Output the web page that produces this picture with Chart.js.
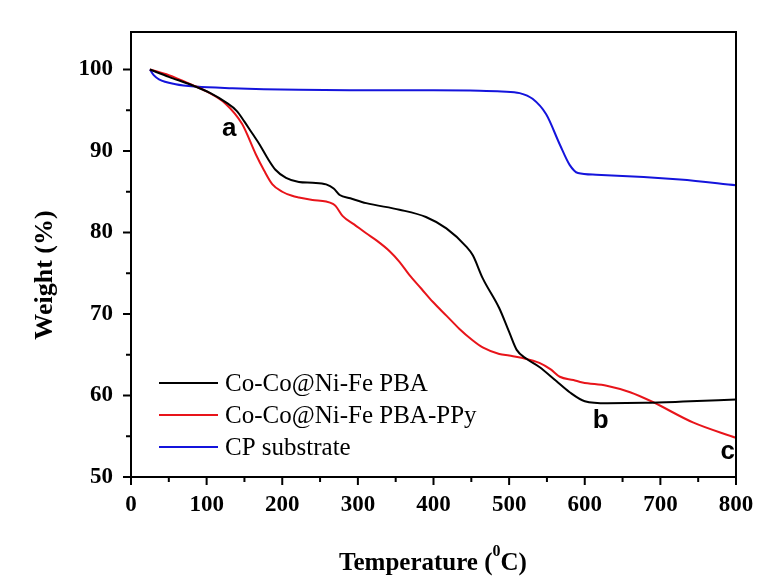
<!DOCTYPE html>
<html>
<head>
<meta charset="utf-8">
<title>TGA curves</title>
<script src="https://cdn.jsdelivr.net/npm/chart.js@4.4.1/dist/chart.umd.min.js"></script>
<style>
    html, body { margin: 0; padding: 0; background: #fff; }
    canvas { display: block; }
</style>
</head>
<body>
<canvas id="tgaChart" width="759" height="576"></canvas>
<script>
// Data
const seriesNames = ["Co-Co@Ni-Fe PBA", "Co-Co@Ni-Fe PBA-PPy", "CP substrate"];
const seriesColors = ["#000000", "#e8141a", "#1414dc"];

const pbaTemp = [25, 50, 80, 105, 125, 140, 150, 160, 170, 180, 191, 205, 222, 240, 258, 268, 276, 290, 311, 355, 390, 417, 443, 452, 465, 487, 500, 510, 523, 540, 562, 580, 600, 630, 680, 730, 800];
const pbaWeight = [100, 99.1, 98.1, 97.1, 96.0, 94.9, 93.6, 92.2, 90.8, 89.2, 87.7, 86.7, 86.2, 86.1, 85.9, 85.4, 84.6, 84.2, 83.6, 82.8, 81.9, 80.5, 78.3, 77.2, 74.4, 70.7, 67.8, 65.6, 64.5, 63.5, 61.8, 60.4, 59.3, 59.05, 59.1, 59.25, 59.5];

const ppyTemp = [25, 50, 81, 100, 125, 147, 165, 176, 187, 200, 213, 222, 240, 258, 267, 271, 280, 295, 311, 325, 342, 355, 368, 384, 399, 417, 434, 450, 465, 487, 500, 518, 540, 555, 567, 585, 597, 629, 660, 690, 743, 800];
const ppyWeight = [100, 99.3, 98.1, 97.3, 95.8, 93.3, 89.6, 87.6, 85.9, 85.0, 84.5, 84.3, 84.0, 83.8, 83.5, 83.2, 82.0, 81.0, 79.9, 79.0, 77.7, 76.4, 74.8, 73.1, 71.5, 69.8, 68.2, 66.9, 65.9, 65.1, 64.9, 64.6, 64.0, 63.2, 62.3, 61.9, 61.6, 61.2, 60.4, 59.2, 56.7, 54.8];

const cpTemp = [25, 30, 37, 59, 86, 134, 222, 289, 400, 461, 490, 514, 531, 549, 567, 580, 591, 615, 726, 800];
const cpWeight = [100, 99.3, 98.8, 98.2, 97.9, 97.7, 97.5, 97.45, 97.45, 97.4, 97.3, 97.1, 96.4, 94.5, 90.8, 88.3, 87.3, 87.1, 86.5, 85.8];

const xTicks = [0, 100, 200, 300, 400, 500, 600, 700, 800];
const yTicks = [50, 60, 70, 80, 90, 100];

// curve labels a, b, c (data coordinates)
const markLabels = ["a", "b", "c"];
const markX = [130, 621, 789];
const markY = [92.7, 56.9, 53.1];

const SERIF = "'Liberation Serif', 'Times New Roman', serif";
const SANS = "'Liberation Sans', Arial, sans-serif";

function toPoints(xs, ys) {
    return xs.map((x, i) => ({ x: x, y: ys[i] }));
}

const datasets = [
    toPoints(pbaTemp, pbaWeight),
    toPoints(ppyTemp, ppyWeight),
    toPoints(cpTemp, cpWeight)
].map((pts, i) => ({
    label: seriesNames[i],
    data: pts,
    borderColor: seriesColors[i],
    borderWidth: 2,
    pointRadius: 0,
    fill: false,
    cubicInterpolationMode: "monotone"
}));

// frame, tick marks, titles, legend and the a/b/c marks
const decorPlugin = {
    id: "decor",
    afterDraw(chart) {
        const ctx = chart.ctx;
        const area = chart.chartArea;
        const xs = chart.scales.x;
        const ys = chart.scales.y;
        ctx.save();

        // box
        ctx.strokeStyle = "#000";
        ctx.lineWidth = 2;
        ctx.strokeRect(area.left, area.top, area.right - area.left, area.bottom - area.top);

        // major + minor ticks, outward
        ctx.beginPath();
        for (let i = 0; i < xTicks.length; i++) {
            const px = xs.getPixelForValue(xTicks[i]);
            ctx.moveTo(px, area.bottom);
            ctx.lineTo(px, area.bottom + 8);
            if (i < xTicks.length - 1) {
                const mx = xs.getPixelForValue((xTicks[i] + xTicks[i + 1]) / 2);
                ctx.moveTo(mx, area.bottom);
                ctx.lineTo(mx, area.bottom + 5);
            }
        }
        for (let i = 0; i < yTicks.length; i++) {
            const py = ys.getPixelForValue(yTicks[i]);
            ctx.moveTo(area.left, py);
            ctx.lineTo(area.left - 8, py);
            if (i < yTicks.length - 1) {
                const my = ys.getPixelForValue((yTicks[i] + yTicks[i + 1]) / 2);
                ctx.moveTo(area.left, my);
                ctx.lineTo(area.left - 5, my);
            }
        }
        ctx.stroke();

        // legend
        ctx.font = "25px " + SERIF;
        ctx.textBaseline = "middle";
        ctx.textAlign = "left";
        const legendY = [383, 415, 447];
        seriesNames.forEach((name, i) => {
            ctx.strokeStyle = seriesColors[i];
            ctx.lineWidth = 2;
            ctx.beginPath();
            ctx.moveTo(159, legendY[i]);
            ctx.lineTo(218, legendY[i]);
            ctx.stroke();
            ctx.fillStyle = "#000";
            ctx.fillText(name, 225, legendY[i] + 1);
        });

        // a, b, c
        ctx.font = "bold 26px " + SANS;
        ctx.textAlign = "center";
        ctx.fillStyle = "#000";
        markLabels.forEach((t, i) => {
            ctx.fillText(t, xs.getPixelForValue(markX[i]), ys.getPixelForValue(markY[i]));
        });

        // x title with superscript 0
        ctx.textBaseline = "alphabetic";
        ctx.textAlign = "left";
        const bigFont = "bold 25px " + SERIF;
        const supFont = "bold 16px " + SERIF;
        const part1 = "Temperature (";
        const part2 = "C)";
        ctx.font = bigFont;
        const w1 = ctx.measureText(part1).width;
        const w3 = ctx.measureText(part2).width;
        ctx.font = supFont;
        const w2 = ctx.measureText("0").width;
        let tx = 433 - (w1 + w2 + w3) / 2;
        ctx.font = bigFont;
        ctx.fillText(part1, tx, 570);
        ctx.font = supFont;
        ctx.fillText("0", tx + w1, 556);
        ctx.font = bigFont;
        ctx.fillText(part2, tx + w1 + w2, 570);

        // y title
        ctx.translate(52, 275);
        ctx.rotate(-Math.PI / 2);
        ctx.font = "bold 26px " + SERIF;
        ctx.textAlign = "center";
        ctx.fillText("Weight (%)", 0, 0);

        ctx.restore();
    }
};

const whiteBg = {
    id: "whiteBg",
    beforeDraw(chart) {
        const ctx = chart.ctx;
        ctx.save();
        ctx.fillStyle = "#fff";
        ctx.fillRect(0, 0, chart.width, chart.height);
        ctx.restore();
    }
};

new Chart(document.getElementById("tgaChart").getContext("2d"), {
    type: "line",
    data: { datasets: datasets },
    plugins: [whiteBg, decorPlugin],
    options: {
        responsive: false,
        animation: false,
        layout: { padding: { top: 32, right: 23, left: 0, bottom: 0 } },
        plugins: {
            legend: { display: false },
            tooltip: { enabled: false }
        },
        scales: {
            x: {
                type: "linear",
                min: 0,
                max: 800,
                afterBuildTicks: (scale) => { scale.ticks = xTicks.map(v => ({ value: v })); },
                afterFit: (scale) => {
                    scale.height = 99;
                    scale.paddingLeft = 0;
                    scale.paddingRight = 0;
                },
                grid: { display: false, drawTicks: false },
                border: { display: false },
                ticks: {
                    color: "#000",
                    padding: 14,
                    maxRotation: 0,
                    font: { family: SERIF, size: 23, weight: "bold" }
                }
            },
            y: {
                min: 50,
                max: 104.6,
                afterBuildTicks: (scale) => { scale.ticks = yTicks.map(v => ({ value: v })); },
                afterFit: (scale) => {
                    scale.width = 131;
                    scale.paddingTop = 0;
                    scale.paddingBottom = 0;
                },
                grid: { display: false, drawTicks: false },
                border: { display: false },
                ticks: {
                    color: "#000",
                    padding: 18,
                    font: { family: SERIF, size: 23, weight: "bold" }
                }
            }
        }
    }
});
</script>
</body>
</html>
